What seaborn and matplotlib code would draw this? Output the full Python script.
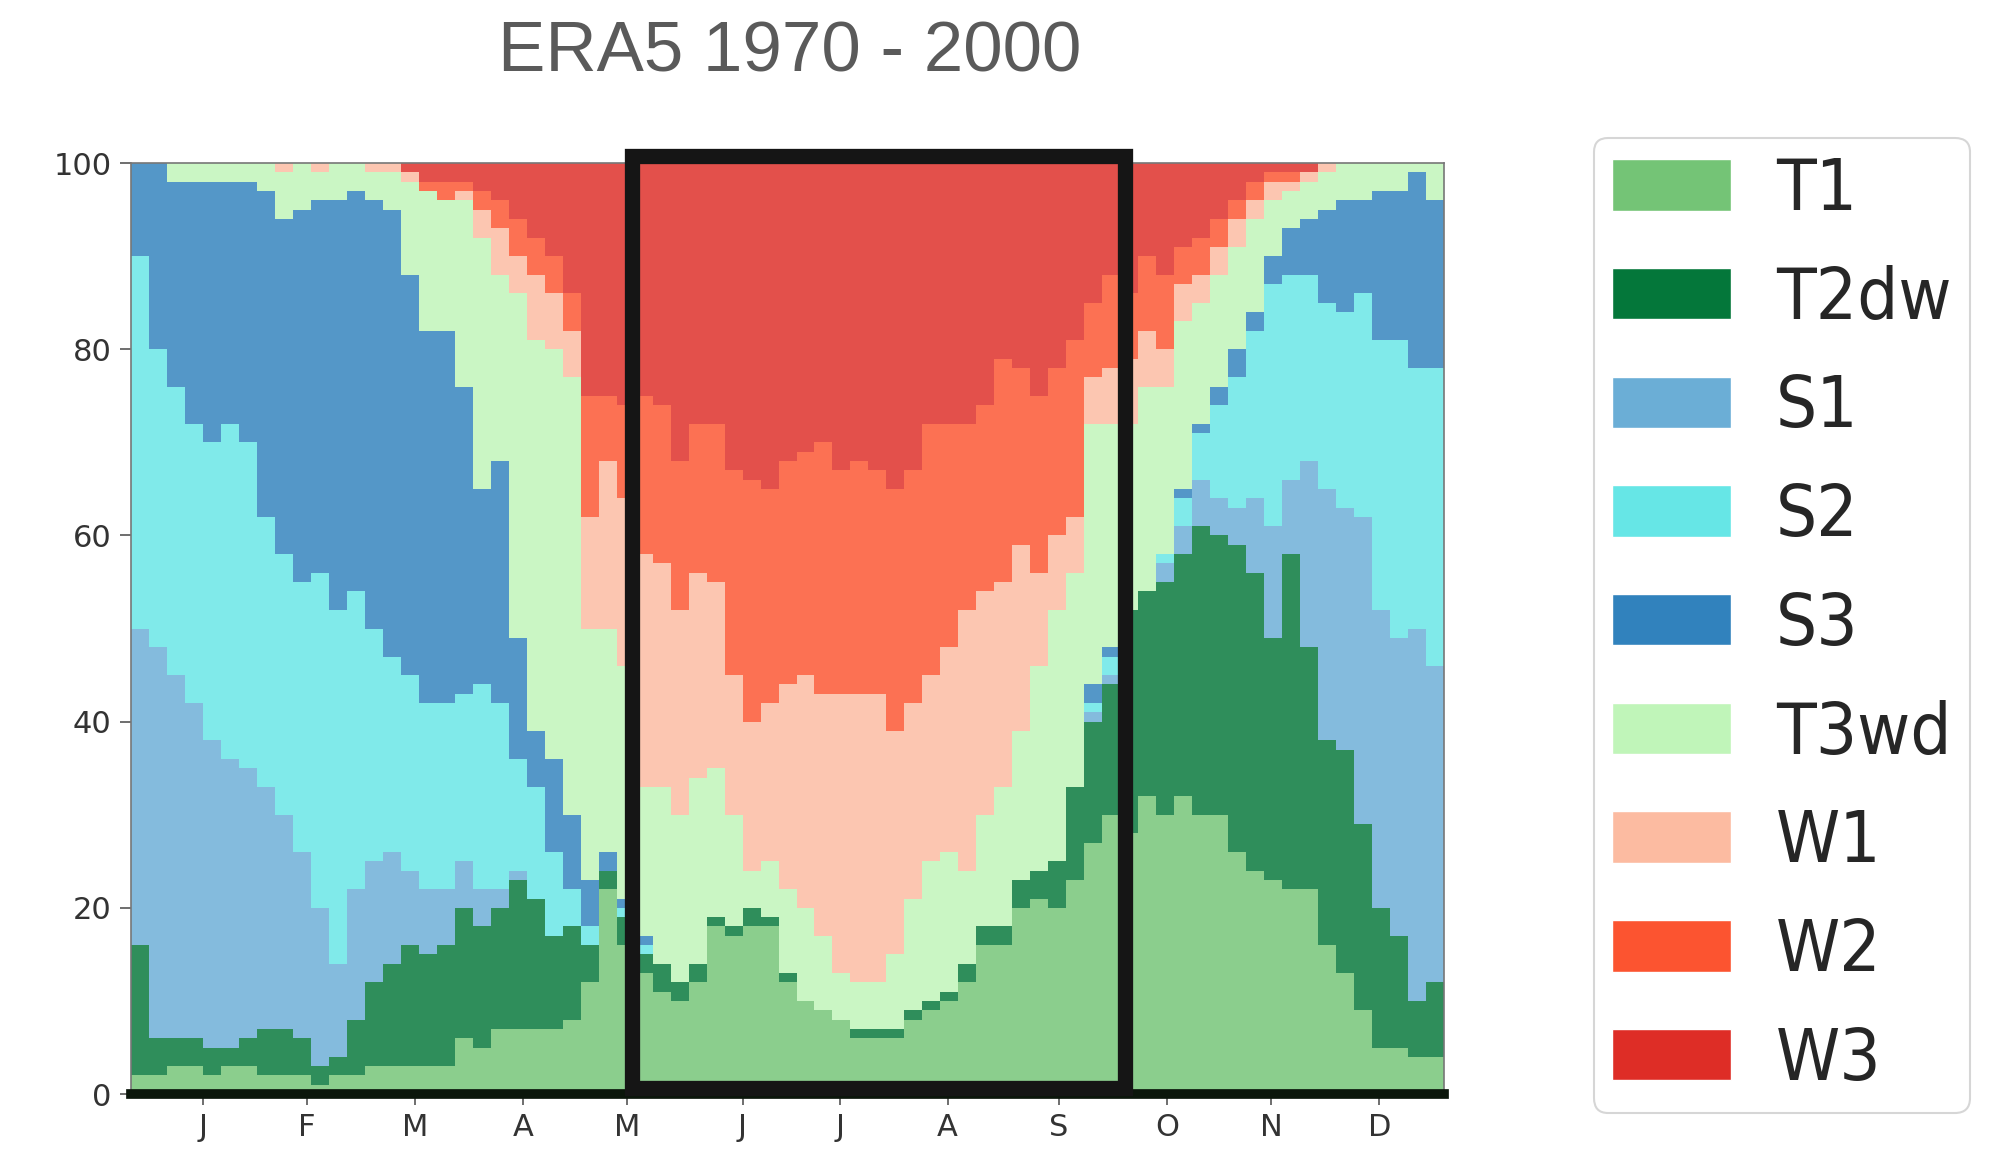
import numpy as np
import pandas as pd
import matplotlib.pyplot as plt
from matplotlib.patches import Patch, Rectangle
import seaborn as sns

# weather types, bottom to top of the stack
classes = ['T1', 'T2dw', 'S1', 'S2', 'S3', 'T3wd', 'W1', 'W2', 'W3']
colors = ['#74c476', '#04773a', '#6baed6', '#66e6e6', '#3182bd',
          '#c0f5b9', '#fcbba1', '#fc5430', '#de2d26']

# frequency (%) of each type, 5-day blocks through the year (73 blocks)
t1 = [2, 2, 3, 3, 2, 3, 3, 2, 2, 2, 1, 2, 2, 3, 3, 3, 3, 3, 6, 5,
      7, 7, 7, 7, 8, 12, 22, 16, 13, 11, 10, 12, 18, 17, 18, 18, 12, 10, 9, 8,
      6, 6, 6, 8, 9, 10, 12, 16, 16, 20, 21, 20, 23, 27, 30, 28, 32, 30, 32, 30,
      30, 26, 24, 23, 22, 22, 16, 13, 9, 5, 5, 4, 4]
t2dw = [14, 4, 3, 3, 3, 2, 3, 5, 5, 4, 2, 2, 6, 9, 11, 13, 12, 13, 14, 13,
        13, 16, 14, 10, 10, 4, 2, 3, 2, 3, 2, 2, 1, 1, 2, 1, 1, 0, 0, 0,
        1, 1, 1, 1, 1, 1, 2, 2, 2, 3, 3, 5, 10, 13, 14, 24, 22, 25, 26, 31,
        30, 33, 32, 26, 36, 26, 22, 24, 20, 15, 12, 6, 8]
s1 = [34, 42, 39, 36, 33, 31, 29, 26, 23, 20, 17, 10, 14, 13, 12, 8, 7, 6, 5, 4,
      2, 1, 0, 0, 0, 0, 0, 0, 0, 0, 0, 0, 0, 0, 0, 0, 0, 0, 0, 0,
      0, 0, 0, 0, 0, 0, 0, 0, 0, 0, 0, 0, 0, 1, 1, 0, 0, 2, 3, 5,
      4, 4, 8, 12, 8, 20, 27, 26, 33, 32, 32, 40, 34]
s2 = [40, 32, 31, 30, 32, 36, 35, 29, 28, 29, 36, 38, 32, 25, 21, 21, 20, 20, 18, 22,
      20, 12, 12, 9, 4, 2, 0, 1, 1, 0, 0, 0, 0, 0, 0, 0, 0, 0, 0, 0,
      0, 0, 0, 0, 0, 0, 0, 0, 0, 0, 0, 0, 0, 1, 2, 0, 0, 1, 3, 5,
      10, 14, 18, 26, 22, 20, 20, 21, 24, 29, 32, 28, 32]
s3 = [10, 20, 22, 26, 28, 26, 28, 35, 36, 40, 40, 44, 43, 46, 48, 43, 40, 40, 33, 21,
      26, 13, 6, 10, 8, 5, 2, 1, 1, 0, 0, 0, 0, 0, 0, 0, 0, 0, 0, 0,
      0, 0, 0, 0, 0, 0, 0, 0, 0, 0, 0, 0, 0, 2, 1, 0, 0, 0, 1, 1,
      2, 3, 2, 3, 5, 6, 10, 12, 10, 16, 16, 21, 18]
t3wd = [0, 0, 2, 2, 2, 2, 2, 3, 5, 5, 3, 4, 3, 3, 4, 10, 15, 14, 20, 27,
        20, 37, 42, 44, 47, 27, 24, 25, 16, 19, 18, 20, 16, 12, 4, 6, 9, 10, 8, 5,
        5, 5, 8, 12, 15, 15, 10, 12, 15, 16, 22, 27, 23, 28, 24, 20, 22, 18, 18, 13,
        12, 11, 10, 6, 4, 4, 4, 4, 4, 3, 3, 1, 4]
w1 = [0, 0, 0, 0, 0, 0, 0, 0, 1, 0, 1, 0, 0, 1, 1, 1, 0, 0, 1, 3,
      5, 4, 7, 6, 5, 12, 18, 18, 25, 24, 22, 22, 20, 15, 16, 17, 22, 25, 26, 30,
      31, 31, 24, 21, 20, 22, 28, 24, 22, 20, 10, 8, 6, 5, 6, 7, 6, 4, 4, 3,
      3, 3, 2, 2, 1, 1, 1, 0, 0, 0, 0, 0, 0]
w2 = [0, 0, 0, 0, 0, 0, 0, 0, 0, 0, 0, 0, 0, 0, 0, 0, 1, 2, 1, 2,
      3, 4, 4, 4, 4, 13, 7, 10, 17, 17, 16, 16, 17, 22, 26, 23, 24, 24, 27, 24,
      25, 24, 26, 25, 27, 24, 20, 20, 24, 19, 19, 18, 19, 8, 10, 7, 8, 8, 4, 4,
      3, 2, 2, 1, 1, 0, 0, 0, 0, 0, 0, 0, 0]
w3 = [0, 0, 0, 0, 0, 0, 0, 0, 0, 0, 0, 0, 0, 0, 0, 1, 2, 2, 2, 3,
      4, 6, 8, 10, 14, 25, 25, 26, 25, 26, 32, 28, 28, 33, 34, 35, 32, 31, 30, 33,
      32, 33, 35, 33, 28, 28, 28, 26, 21, 22, 25, 22, 19, 15, 12, 14, 10, 12, 9, 8,
      6, 4, 2, 1, 1, 1, 0, 0, 0, 0, 0, 0, 0]

months = ['J', 'F', 'M', 'A', 'M', 'J', 'J', 'A', 'S', 'O', 'N', 'D']
month_ticks = [20, 49, 79, 109, 138, 170, 197, 227, 258, 288, 317, 347]

series = [t1, t2dw, s1, s2, s3, t3wd, w1, w2, w3]
block_days = np.arange(len(t1)) * 5 + 2.5
total = np.sum(series, axis=0)

rows = []
for name, vals in zip(classes, series):
    for d, v, tot in zip(block_days, vals, total):
        rows.append({'day': d, 'type': name, 'freq': 100 * v / tot})
df = pd.DataFrame(rows)

sns.set_theme(style='white')
plt.rcParams['font.family'] = ['DejaVu Sans']

fig = plt.figure(figsize=(19.99, 11.65), dpi=100)
ax = fig.add_axes([0.0655, 0.0609, 0.6569, 0.7991])

# seaborn stacks the last hue level at the bottom
sns.histplot(data=df, x='day', weights='freq', hue='type', hue_order=classes[::-1],
             palette=dict(zip(classes, colors)), multiple='stack',
             binwidth=5, binrange=(0, 365), element='bars', shrink=1,
             linewidth=0, alpha=0.83, legend=False, ax=ax)

ax.set_xlim(0, 365)
ax.set_ylim(0, 100)
ax.set_yticks([0, 20, 40, 60, 80, 100])
ax.set_xticks(month_ticks, months)
ax.set_xlabel('')
ax.set_ylabel('')
ax.tick_params(bottom=True, left=True, direction='out', length=8, width=1.2,
               color='#555555', labelsize=22, labelcolor='#333333', pad=6)

for s in ax.spines.values():
    s.set_color('#777777')
    s.set_linewidth(1.2)
ax.spines['bottom'].set_color('#0b160b')
ax.spines['bottom'].set_linewidth(7)

# highlight of the warm season (May - Sep)
ax.add_patch(Rectangle((139.3, 0.6), 137, 100.15, fill=False, lw=11,
                       ec='#151515', clip_on=False, zorder=5))

fig.text(0.395, 1 - 53 / 1165, 'ERA5 1970 - 2000', ha='center', va='center',
         fontsize=51, color='#5a5a5a', family='Liberation Sans')

handles = [Patch(facecolor=c, label=l) for l, c in zip(classes, colors)]
leg = fig.legend(handles=handles, loc='upper left',
                 bbox_to_anchor=(1594 / 1999, 1 - 138 / 1165),
                 prop=dict(family='DejaVu Sans', stretch='condensed', size=52),
                 handlelength=1.65, handleheight=0.72, handletextpad=0.62,
                 labelspacing=0.55, borderpad=0.25, borderaxespad=0,
                 frameon=True, fancybox=True)
leg.get_frame().set_edgecolor('#cccccc')
leg.get_frame().set_linewidth(1.5)

fig.savefig('out.png', dpi=100)
